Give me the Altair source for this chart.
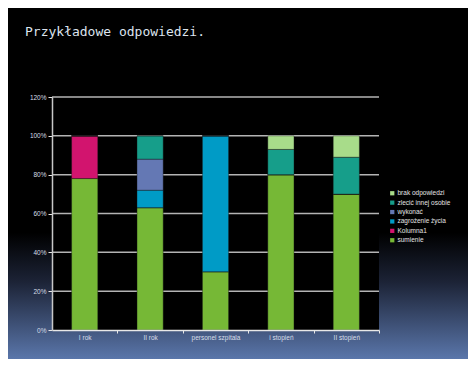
import altair as alt
import pandas as pd

categories = ["I rok", "II rok", "personel szpitala", "i stopień", "II stopień"]
series = ["sumienie", "Kolumna1", "zagrożenie życia", "wykonać", "zlecić innej osobie", "brak odpowiedzi"]
colors = ["#76b836", "#d2146e", "#009bc6", "#6478b4", "#169e8a", "#a8dc8a"]
values = {
    "sumienie":            [78, 63, 30, 80, 70],
    "Kolumna1":            [22, 0, 0, 0, 0],
    "zagrożenie życia":    [0, 9, 70, 0, 0],
    "wykonać":             [0, 16, 0, 0, 0],
    "zlecić innej osobie": [0, 12, 0, 13, 19],
    "brak odpowiedzi":     [0, 0, 0, 7, 11],
}
y_ticks = [0, 20, 40, 60, 80, 100, 120]
title_text = "Przykładowe odpowiedzi."

rows = []
for si, s in enumerate(series):
    for ci, c in enumerate(categories):
        rows.append({"kategoria": c, "seria": s, "wartosc": values[s][ci], "kolejnosc": si})
df = pd.DataFrame(rows)

W, H = 327, 233
PL, PT, PR, PB = 44, 89, 89, 29

legend_order = list(reversed(series))
legend_colors = list(reversed(colors))

y_axis = alt.Axis(
    title=None, values=y_ticks, labelExpr="datum.value + '%'",
    tickSize=4, labelPadding=2, labelFontSize=6.5, labelColor="#d8dee8",
    labelFont="Liberation Sans", domainColor="#c8c8c8", tickColor="#e8e8e8",
    domainWidth=1.5, grid=False, zindex=2, labelOverlap=False,
)
y_scale = alt.Scale(domain=[0, 120])

bg = alt.Chart(pd.DataFrame({"a": [0]})).mark_rect(
    fill=alt.Gradient(
        gradient="linear",
        stops=[
            alt.GradientStop(color="#000000", offset=0),
            alt.GradientStop(color="#000000", offset=0.64),
            alt.GradientStop(color="#1c2336", offset=0.78),
            alt.GradientStop(color="#5a76aa", offset=1),
        ],
        x1=0, x2=0, y1=0, y2=1,
    )
).encode(
    x=alt.value(-PL), x2=alt.value(W + PR),
    y=alt.value(-PT), y2=alt.value(H + PB),
)

plotbg = alt.Chart(pd.DataFrame({"a": [0]})).mark_rect(fill="#000000").encode(
    x=alt.value(0), x2=alt.value(W), y=alt.value(0), y2=alt.value(H),
)

grid = alt.Chart(pd.DataFrame({"wartosc": y_ticks[1:]})).mark_rule(
    color="#b4b4b4", strokeWidth=1.5
).encode(
    y=alt.Y("wartosc:Q", scale=y_scale, axis=y_axis),
)

bars = alt.Chart(df).mark_bar(stroke="#1a1a1a", strokeWidth=0.4).encode(
    x=alt.X(
        "kategoria:N",
        sort=categories,
        scale=alt.Scale(paddingInner=0.6, paddingOuter=0.3),
        axis=alt.Axis(
            title=None, labelAngle=0, tickOffset=W / 10, labelOffset=-W / 10,
            tickSize=3, labelPadding=1, labelFontSize=6.5, labelColor="#d8dee8",
            labelFont="Liberation Sans", domainColor="#e8e8e8", tickColor="#e8e8e8",
            domainWidth=1.5, grid=False, zindex=2, labelOverlap=False,
        ),
    ),
    y=alt.Y("wartosc:Q", stack="zero", scale=y_scale, axis=y_axis),
    color=alt.Color(
        "seria:N",
        scale=alt.Scale(domain=legend_order, range=legend_colors),
        title=None,
        legend=alt.Legend(
            orient="none", legendX=337, legendY=93, symbolType="square",
            symbolSize=18, symbolStrokeWidth=0, labelFontSize=6.5,
            labelFont="Liberation Sans", labelColor="#e4e4e4", labelOffset=2,
            rowPadding=2.4, padding=0,
        ),
    ),
    order=alt.Order("kolejnosc:Q", sort="ascending"),
)

title = alt.Chart(pd.DataFrame({"t": [title_text]})).mark_text(
    align="left", baseline="alphabetic", font="DejaVu Sans Mono",
    fontSize=13, color="#dde4ee",
).encode(
    text="t:N", x=alt.value(-27), y=alt.value(-61),
)

chart = alt.layer(bg, plotbg, grid, bars, title).properties(
    width=W, height=H,
    autosize=alt.AutoSizeParams(type="none"),
    padding={"left": PL, "top": PT, "right": PR, "bottom": PB},
    background="#000000",
).configure_view(stroke=None)

chart.save("out.html", embed_options={"renderer": "svg", "actions": False})
